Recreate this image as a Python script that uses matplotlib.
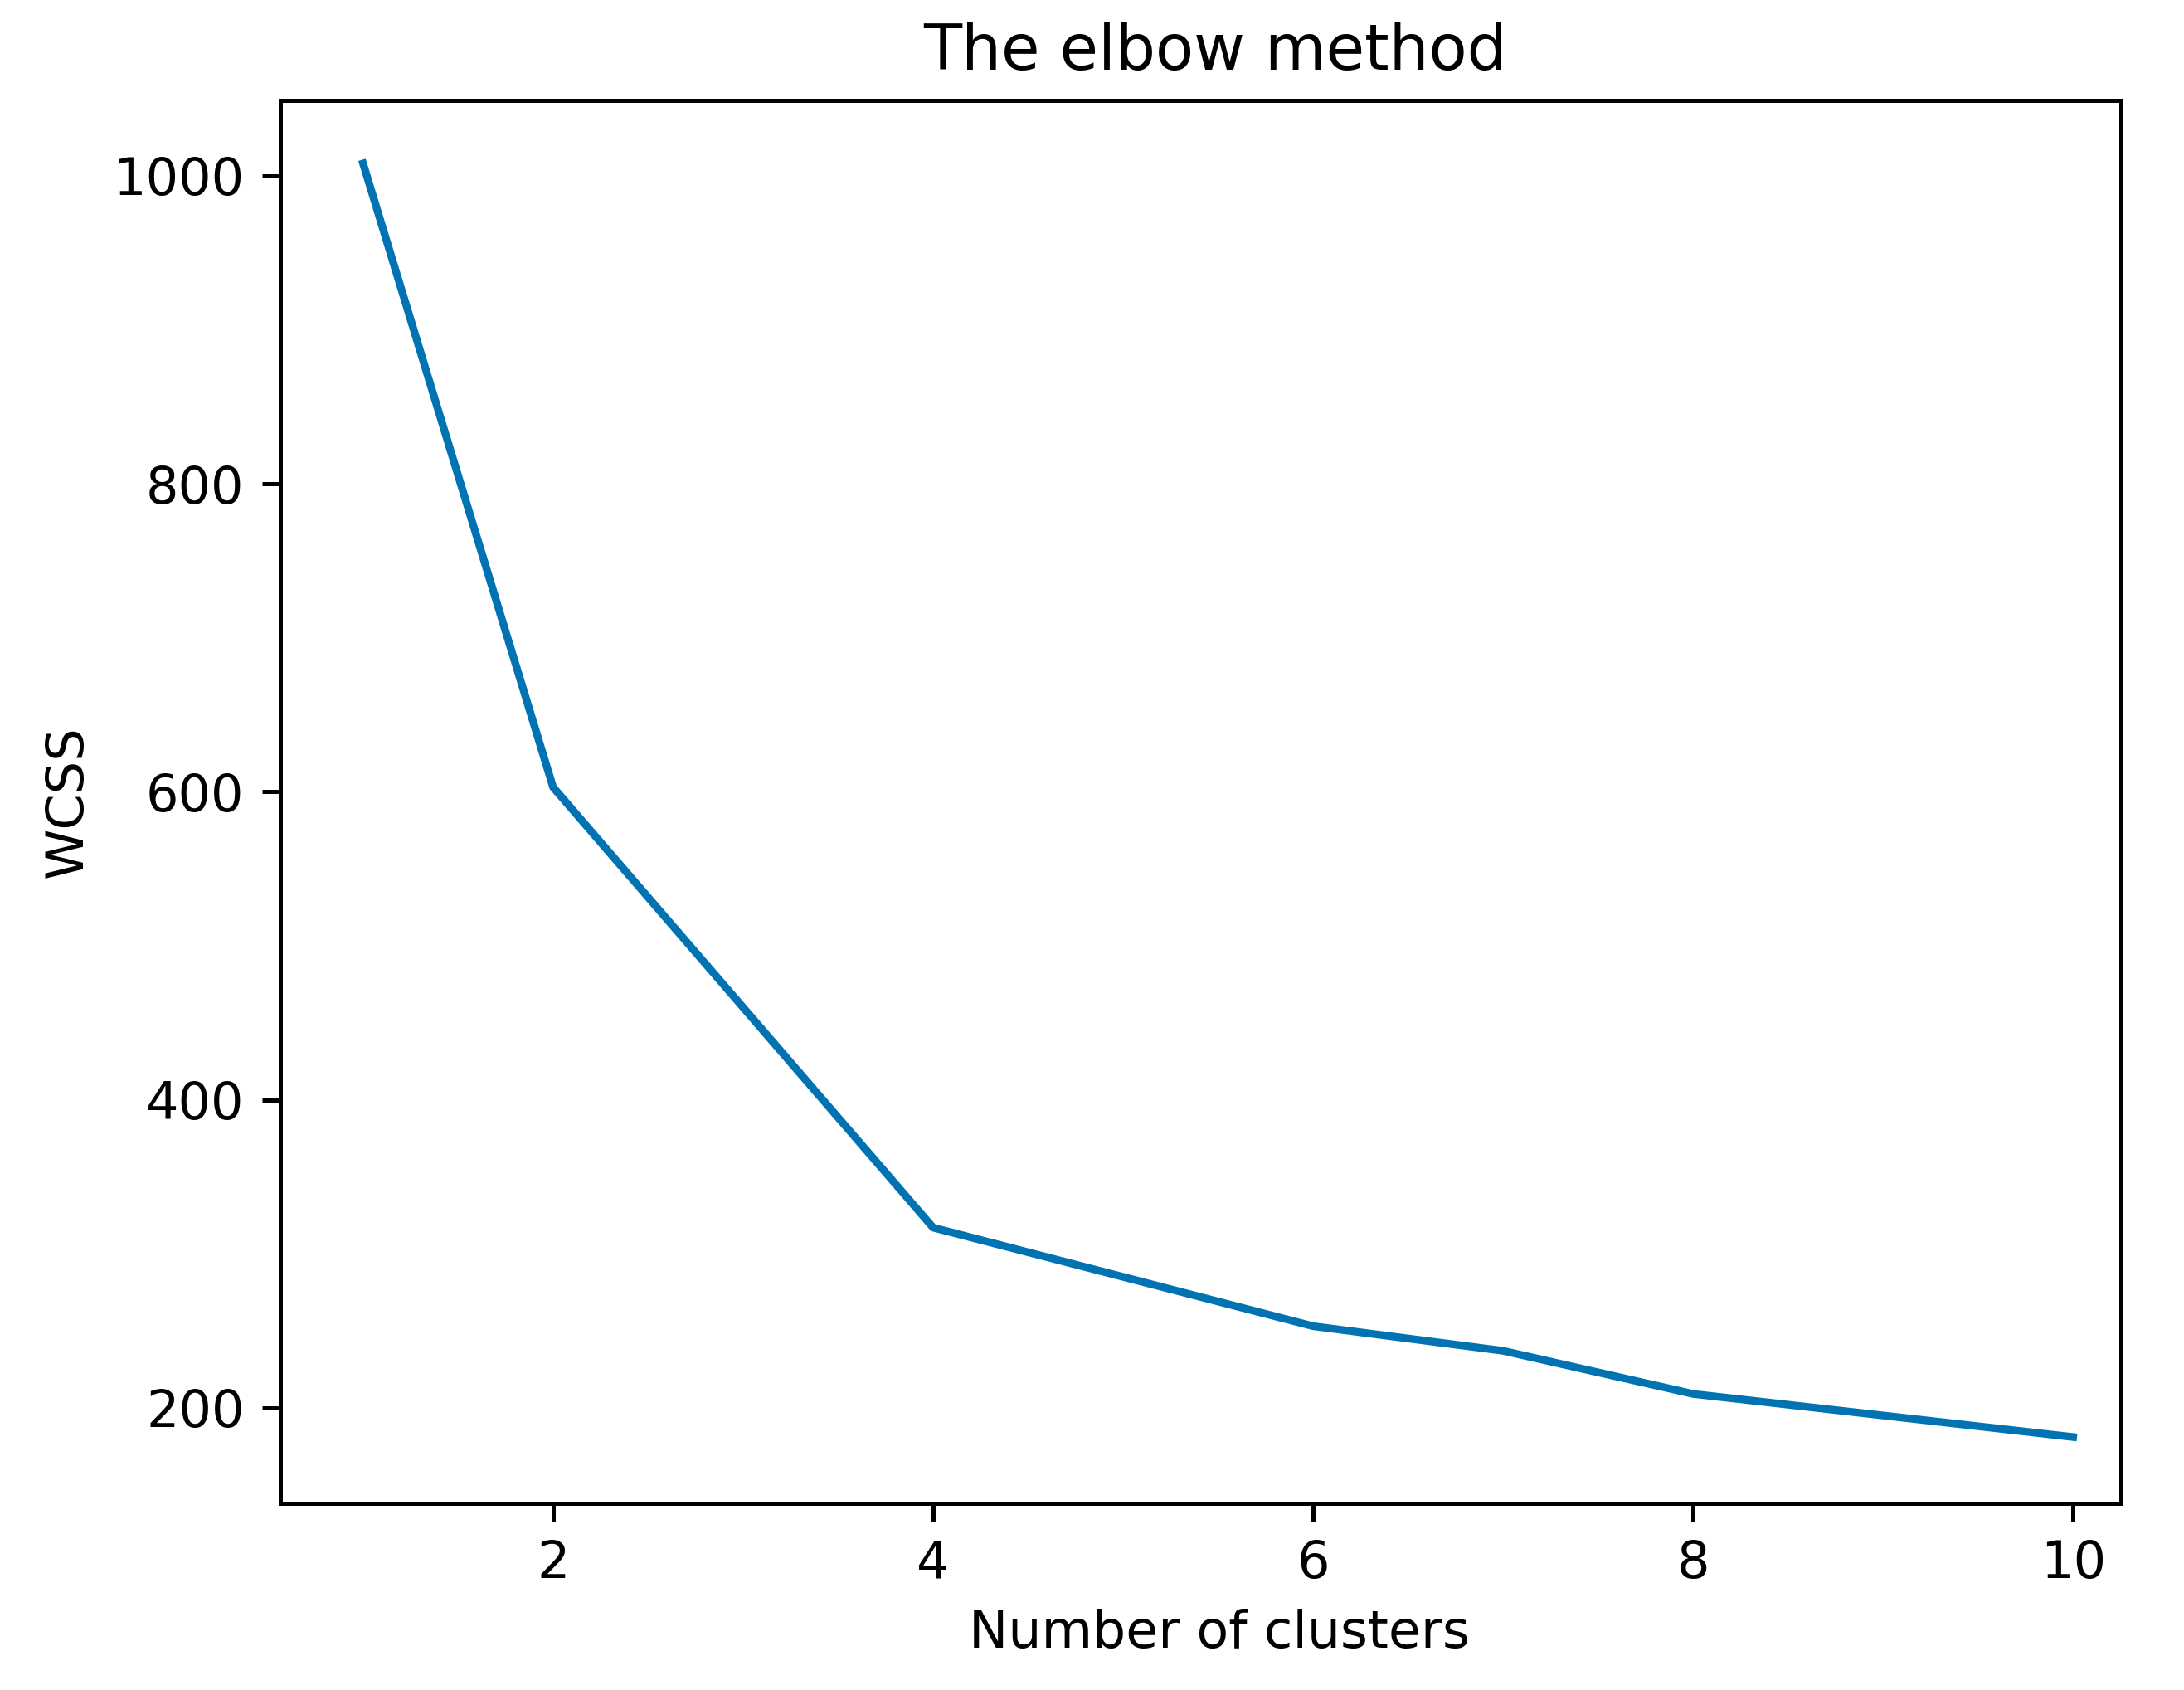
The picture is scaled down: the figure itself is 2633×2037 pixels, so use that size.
import matplotlib.pyplot as plt

# datos del metodo del codo
clusters = [1, 2, 3, 4, 5, 6, 7, 8, 9, 10]
wcss = [1008, 603, 460, 317, 285, 253, 237, 209, 195, 181]

fig = plt.figure(figsize=(2633 / 447, 2037 / 447), dpi=447)
ax = fig.add_subplot(111)
fig.subplots_adjust(left=0.1284, right=0.971, top=0.9406, bottom=0.1105)

ax.plot(clusters, wcss, color='#0173B2', linewidth=1.5)
ax.set_xlim(0.565, 10.25)
ax.set_ylim(138, 1049)
ax.set_xticks([2, 4, 6, 8, 10])
ax.set_title('The elbow method', x=0.508, fontsize=12.2)
ax.set_xlabel('Number of clusters', fontsize=10.2)
ax.xaxis.set_label_coords(0.51, -0.075)
ax.set_ylabel('WCSS')

fig.savefig('out.png', dpi=447)
